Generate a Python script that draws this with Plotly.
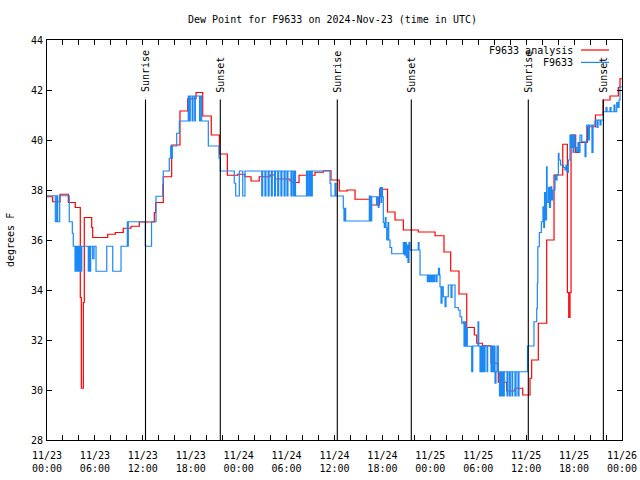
import plotly.graph_objects as go
import pandas as pd

# ---------------- data ----------------
START = "2024-11-23 00:00"

# analysis (red) : (hours since start, dew point F)
red_steps = [
    (0.00, 37.73), (0.71, 37.53), (1.63, 37.83), (2.67, 37.5), (3.54, 37.3),
    (4.17, 33.7), (4.30, 30.07), (4.55, 33.5), (4.67, 36.9), (5.60, 36.5),
    (5.72, 36.1), (7.60, 36.23), (8.55, 36.3), (9.55, 36.47), (10.52, 36.55),
    (11.56, 36.72), (13.44, 37.1), (13.61, 37.5), (14.56, 38.53), (15.61, 39.8),
    (16.65, 41.16), (17.62, 41.65), (18.66, 41.9), (19.50, 40.96), (20.57, 40.2),
    (21.58, 39.44), (22.58, 38.59), (23.88, 38.63), (24.79, 38.53), (25.55, 38.36),
    (26.58, 38.53), (27.92, 38.6), (28.55, 38.44), (30.43, 38.36), (30.64, 38.3),
    (31.56, 38.59), (33.56, 38.71), (34.60, 38.77), (35.56, 38.4), (36.60, 37.96),
    (37.57, 38.0), (38.57, 37.63), (40.57, 37.4), (41.64, 38.03), (42.64, 37.12),
    (43.58, 36.8), (44.62, 36.4), (46.49, 36.32), (48.59, 36.17), (49.71, 35.52),
    (50.55, 34.76), (51.59, 33.84), (52.56, 32.5), (53.51, 32.2), (53.81, 31.87),
    (54.53, 31.77), (55.60, 31.07), (56.51, 30.31), (57.56, 29.96), (58.60, 30.07),
    (59.57, 29.8), (60.48, 30.47), (60.69, 31.2), (61.52, 32.67), (62.57, 36.0),
    (63.49, 38.6), (64.58, 39.83), (65.16, 33.9), (65.33, 32.9), (65.49, 33.9),
    (65.62, 40.2), (66.20, 39.5), (66.66, 39.9), (67.66, 40.53), (68.68, 41.0),
    (69.62, 41.6), (70.50, 41.76), (71.54, 42.1), (71.75, 42.45), (72.0, 42.45),
]

# station observations (blue) : (hours since start, dew point F)
blue_steps = [
    (0.00, 37.77), (1.04, 36.73), (1.21, 37.77), (1.34, 36.73), (1.59, 37.77),
    (2.79, 36.73), (3.17, 36.27), (3.29, 35.75),
    (3.51, 34.75), (3.59, 35.75), (3.67, 34.75), (3.76, 35.75), (3.84, 34.75),
    (3.92, 35.75), (4.01, 34.75), (4.09, 35.75), (4.17, 34.75), (4.26, 35.75),
    (4.30, 34.75), (4.35, 35.75),
    (5.17, 34.75), (5.30, 35.75), (5.38, 34.75), (5.47, 35.75),
    (5.72, 35.25), (5.89, 35.75), (6.14, 34.75), (7.48, 35.75), (8.23, 34.75),
    (9.27, 35.75), (10.06, 36.73), (10.12, 35.75), (10.18, 36.73),
    (12.31, 35.75), (13.09, 36.73), (13.65, 37.75), (14.49, 38.23), (14.56, 38.76),
    (15.31, 39.27), (15.49, 39.76), (15.59, 39.27), (15.69, 39.76),
    (16.24, 40.27), (16.57, 40.76), (17.69, 41.76), (17.82, 40.76), (17.94, 41.76),
    (18.18, 40.76), (18.28, 41.76), (18.50, 40.76), (18.58, 41.76), (19.10, 40.76),
    (19.20, 41.76), (19.37, 40.76), (20.20, 39.76), (21.54, 39.27), (21.70, 38.76),
    (23.45, 38.27), (23.63, 37.76), (24.08, 38.76), (24.51, 37.76), (24.79, 38.76),
    (26.89, 37.76), (27.01, 38.76), (27.29, 37.76), (27.41, 38.76), (27.69, 37.76),
    (27.81, 38.76), (28.09, 37.76), (28.21, 38.76), (28.49, 37.76), (28.61, 38.76),
    (28.89, 37.76), (29.01, 38.76), (29.29, 37.76), (29.41, 38.76), (29.69, 37.76),
    (29.81, 38.76), (30.05, 37.76), (30.17, 38.76),
    (30.55, 37.76), (30.67, 38.76), (30.85, 37.76), (30.97, 38.76), (31.12, 37.76),
    (32.49, 38.76), (32.62, 37.76), (32.72, 38.76), (32.88, 37.76), (32.98, 38.76),
    (33.12, 37.76), (33.22, 38.76),
    (35.44, 38.27), (35.56, 37.76), (36.06, 38.27), (36.19, 37.76),
    (37.10, 37.27), (37.19, 36.76), (37.28, 37.27), (37.40, 36.76),
    (40.36, 37.76), (40.42, 36.76), (40.51, 37.76), (40.57, 36.76), (40.66, 37.73),
    (41.26, 37.4), (41.36, 37.73), (41.49, 37.3), (41.57, 37.73), (41.70, 38.1),
    (41.82, 37.5), (41.91, 38.1), (42.01, 37.73), (42.11, 36.7), (42.24, 36.5),
    (42.36, 36.9), (42.45, 36.5), (42.54, 36.0), (42.70, 36.7), (42.79, 36.0),
    (42.95, 35.7), (43.16, 35.45),
    (44.62, 35.9), (44.77, 35.4), (44.87, 35.9), (44.99, 35.3), (45.08, 35.8),
    (45.20, 35.1), (45.33, 35.9), (45.45, 35.6),
    (46.49, 35.9), (46.58, 35.6), (46.71, 34.6),
    (47.62, 34.33), (47.75, 34.6), (47.87, 34.33), (48.00, 34.6), (48.15, 34.33),
    (48.27, 34.6), (48.40, 34.33), (48.52, 34.6), (48.71, 34.33), (48.84, 34.6),
    (49.02, 34.87), (49.15, 34.6),
    (49.21, 34.13), (49.34, 33.47), (49.46, 34.13), (49.62, 33.73), (49.84, 33.33),
    (49.96, 33.73), (50.25, 34.2), (50.59, 33.7), (50.71, 34.2), (51.09, 33.3),
    (51.50, 33.2), (51.72, 32.93), (51.93, 32.67),
    (52.13, 32.73), (52.22, 31.75), (52.34, 32.73), (52.43, 31.75), (52.53, 32.5),
    (52.63, 31.75), (53.18, 30.73), (53.31, 31.76), (53.97, 32.73), (54.06, 31.76),
    (54.22, 30.73), (54.35, 31.76), (54.47, 30.73), (54.60, 31.76), (54.72, 30.73),
    (54.85, 31.76), (55.10, 30.73), (55.18, 31.76),
    (55.60, 30.73), (55.72, 31.76), (55.85, 30.73), (55.97, 31.76), (56.10, 30.27),
    (56.22, 30.73), (56.35, 31.76), (56.51, 30.73),
    (56.66, 29.76), (56.76, 30.73), (56.91, 29.76), (57.01, 30.73), (57.14, 29.76),
    (57.26, 30.73), (57.60, 29.76), (57.69, 30.73), (57.89, 29.76), (58.01, 30.73),
    (58.23, 29.76), (58.31, 30.73), (58.60, 29.76), (58.73, 30.73), (58.98, 29.76),
    (59.10, 30.73),
    (60.17, 31.76), (60.98, 32.73), (61.32, 33.27), (61.40, 34.27), (61.46, 35.73),
    (61.65, 36.3), (61.90, 36.73), (62.10, 37.33), (62.20, 36.5), (62.30, 37.9),
    (62.45, 36.8), (62.55, 38.93), (62.62, 37.5), (62.80, 38.1), (62.92, 37.3),
    (63.05, 38.13), (63.20, 37.6), (63.35, 38.0),
    (63.61, 38.6), (63.74, 38.4), (63.86, 38.6), (64.03, 39.47), (64.11, 39.2),
    (64.30, 39.0), (64.49, 39.0), (64.68, 38.9), (64.86, 38.8), (64.99, 39.0),
    (65.11, 38.7), (65.28, 39.2),
    (65.49, 40.2), (65.62, 39.7), (65.74, 40.2), (65.87, 39.5), (65.99, 40.2),
    (66.12, 39.7), (66.33, 39.53), (66.49, 39.9), (66.62, 39.5), (66.74, 40.2),
    (66.96, 39.93), (67.37, 39.33), (67.49, 39.93),
    (67.58, 40.6), (67.81, 40.0), (67.91, 40.6), (68.24, 39.5), (68.37, 40.6),
    (68.62, 40.8), (68.87, 40.5), (69.00, 40.8), (69.25, 40.6), (69.37, 40.8),
    (69.66, 41.13), (70.00, 41.3), (70.12, 41.13), (70.50, 41.3), (70.62, 41.13),
    (71.00, 41.4), (71.12, 41.13), (71.34, 41.5), (71.50, 41.3), (71.63, 41.6),
    (71.75, 42.13), (72.0, 42.13),
]

# sunrise / sunset markers (UTC)
event_times = ["2024-11-23 12:20", "2024-11-23 21:42", "2024-11-24 12:21",
               "2024-11-24 21:37", "2024-11-25 12:16", "2024-11-25 21:40"]
event_labels = ["Sunrise", "Sunset", "Sunrise", "Sunset", "Sunrise", "Sunset"]

# x ticks every 2 hours, labelled every 6 hours
xtick_labels_6h = ["11/23<br>00:00", "11/23<br>06:00", "11/23<br>12:00", "11/23<br>18:00",
                   "11/24<br>00:00", "11/24<br>06:00", "11/24<br>12:00", "11/24<br>18:00",
                   "11/25<br>00:00", "11/25<br>06:00", "11/25<br>12:00", "11/25<br>18:00",
                   "11/26<br>00:00"]
y_ticks = [28, 30, 32, 34, 36, 38, 40, 42, 44]

series_names = ["F9633 analysis", "F9633"]
title_text = "Dew Point for F9633 on 2024-Nov-23 (time in UTC)"
y_title = "degrees F"

# ---------------- build ----------------
base = pd.Timestamp(START)


def times(hours):
    return [base + pd.Timedelta(hours=h) for h in hours]


red_h, red_v = zip(*red_steps)
blue_h, blue_v = zip(*blue_steps)

FONT = "DejaVu Sans Mono"
RED = "#ff0000"
BLUE = "#1a88f5"
LW = 1.2

fig = go.Figure()
fig.add_trace(go.Scatter(x=times(red_h), y=list(red_v), mode="lines",
                         line=dict(color=RED, width=LW, shape="hv"),
                         name=series_names[0], showlegend=False))
fig.add_trace(go.Scatter(x=times(blue_h), y=list(blue_v), mode="lines",
                         line=dict(color=BLUE, width=LW, shape="hv"),
                         name=series_names[1], showlegend=False))

tick_times = [base + pd.Timedelta(hours=2 * i) for i in range(37)]
tick_text = []
for i in range(37):
    tick_text.append(xtick_labels_6h[i // 3] if i % 3 == 0 else "")

shapes = []
annotations = []
for t, lab in zip(event_times, event_labels):
    shapes.append(dict(type="line", xref="x", yref="y", x0=t, x1=t, y0=28, y1=41.62,
                       line=dict(color="black", width=1.1)))
    annotations.append(dict(x=t, y=41.82, xref="x", yref="y", text=lab, textangle=-90,
                            showarrow=False, xanchor="center", yanchor="bottom",
                            font=dict(family=FONT, size=10, color="black")))

# legend drawn gnuplot-style: text right aligned, sample line on the right
leg_rows = [(0.975, RED, series_names[0]), (0.944, BLUE, series_names[1])]
for yy, col, name in leg_rows:
    annotations.append(dict(x=0.918, y=yy, xref="paper", yref="paper", text=name,
                            showarrow=False, xanchor="right", yanchor="middle",
                            font=dict(family=FONT, size=10, color="black")))
    shapes.append(dict(type="line", xref="paper", yref="paper", x0=0.9287, x1=0.9774,
                       y0=yy, y1=yy, line=dict(color=col, width=LW)))

annotations.append(dict(x=0.4957, y=1.0525, xref="paper", yref="paper", text=title_text,
                        showarrow=False, xanchor="center", yanchor="middle",
                        font=dict(family=FONT, size=10, color="black")))
annotations.append(dict(x=-0.0643, y=0.5, xref="paper", yref="paper", text=y_title,
                        textangle=-90, showarrow=False, xanchor="center", yanchor="middle",
                        font=dict(family=FONT, size=10, color="black")))

fig.update_layout(
    width=640, height=480,
    margin=dict(l=47, r=18, t=40, b=40, autoexpand=False),
    paper_bgcolor="white", plot_bgcolor="white",
    font=dict(family=FONT, size=10, color="black"),
    showlegend=False, hovermode=False,
    shapes=shapes, annotations=annotations,
)
fig.update_xaxes(type="date", range=[base, base + pd.Timedelta(hours=72)],
                 tickvals=tick_times, ticktext=tick_text, automargin=False,
                 showline=True, linecolor="black", linewidth=1, mirror="allticks",
                 ticks="inside", ticklen=5, tickcolor="black", tickwidth=1,
                 showgrid=False, zeroline=False, tickangle=0,
                 ticklabelstandoff=6,
                 tickfont=dict(family=FONT, size=10, color="black"))
fig.update_yaxes(range=[28, 44], tickvals=y_ticks, ticktext=[str(v) for v in y_ticks],
                 automargin=False,
                 showline=True, linecolor="black", linewidth=1, mirror="allticks",
                 ticks="inside", ticklen=5, tickcolor="black", tickwidth=1,
                 showgrid=False, zeroline=False, ticklabelstandoff=1,
                 tickfont=dict(family=FONT, size=10, color="black"))

fig.write_html("out.html", config={"displayModeBar": False, "staticPlot": True},
               post_script="document.body.style.margin='0px';document.body.style.overflow='hidden';")
